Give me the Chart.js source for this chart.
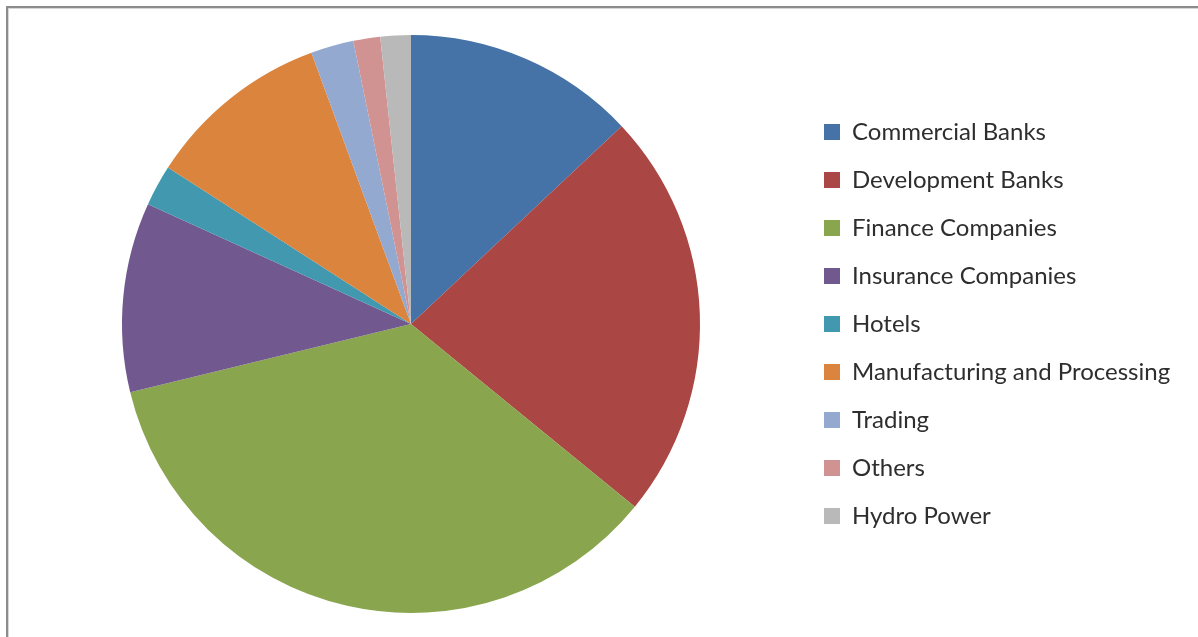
<!DOCTYPE html>
<html>
<head>
<meta charset="utf-8">
<script src="https://cdn.jsdelivr.net/npm/chart.js@4/dist/chart.umd.min.js"></script>
<style>
    html, body { margin: 0; padding: 0; background: #fff; }
    #wrap { position: relative; width: 1198px; height: 637px; overflow: hidden; }
    #sectorChart { position: absolute; left: 0; top: 0; }
    /* outer chart frame, only top and left edges fall inside the page */
    #frame {
        position: absolute; left: 6px; top: 6px; width: 1300px; height: 700px;
        border-top: 2px solid #8c8c8c; border-left: 2px solid #8c8c8c;
        box-shadow: inset 1px 1px 0 #d6d6d6;
        pointer-events: none;
    }
</style>
</head>
<body>
<div id="wrap">
    <canvas id="sectorChart" width="1198" height="637"></canvas>
    <div id="frame"></div>
</div>
<script>
// Sector shares (%)
const sectors = [
    'Commercial Banks',
    'Development Banks',
    'Finance Companies',
    'Insurance Companies',
    'Hotels',
    'Manufacturing and Processing',
    'Trading',
    'Others',
    'Hydro Power'
];
const shares = [13.0, 22.9, 35.3, 10.6, 2.3, 10.3, 2.4, 1.5, 1.7];
const sectorColors = ['#4572A7', '#AA4643', '#89A54E', '#71588F', '#4198AF', '#DB843D', '#93A9CF', '#D19392', '#B9B9B9'];

// Fixed-width legend column on the right
const legendWidth = {
    id: 'legendWidth',
    beforeInit(chart) {
        const fit = chart.legend.fit;
        chart.legend.fit = function () {
            fit.bind(chart.legend)();
            this.width = 384;
        };
    }
};

function createSectorChart() {
    const canvas = document.getElementById('sectorChart');
    if (!canvas) return;

    const ctx = canvas.getContext('2d');
    new Chart(ctx, {
        type: 'pie',
        data: {
            labels: sectors,
            datasets: [{
                data: shares,
                backgroundColor: sectorColors,
                borderWidth: 0
            }]
        },
        options: {
            responsive: false,
            animation: false,
            layout: {
                padding: { left: 22, top: 35, right: 14, bottom: 24 }
            },
            plugins: {
                tooltip: { enabled: false },
                legend: {
                    position: 'right',
                    align: 'center',
                    labels: {
                        boxWidth: 16,
                        boxHeight: 16,
                        padding: 24,
                        color: '#2e2e2e',
                        font: { family: 'Lato', size: 24 }
                    }
                }
            }
        },
        plugins: [legendWidth]
    });
}

window.addEventListener('DOMContentLoaded', createSectorChart);
</script>
</body>
</html>
